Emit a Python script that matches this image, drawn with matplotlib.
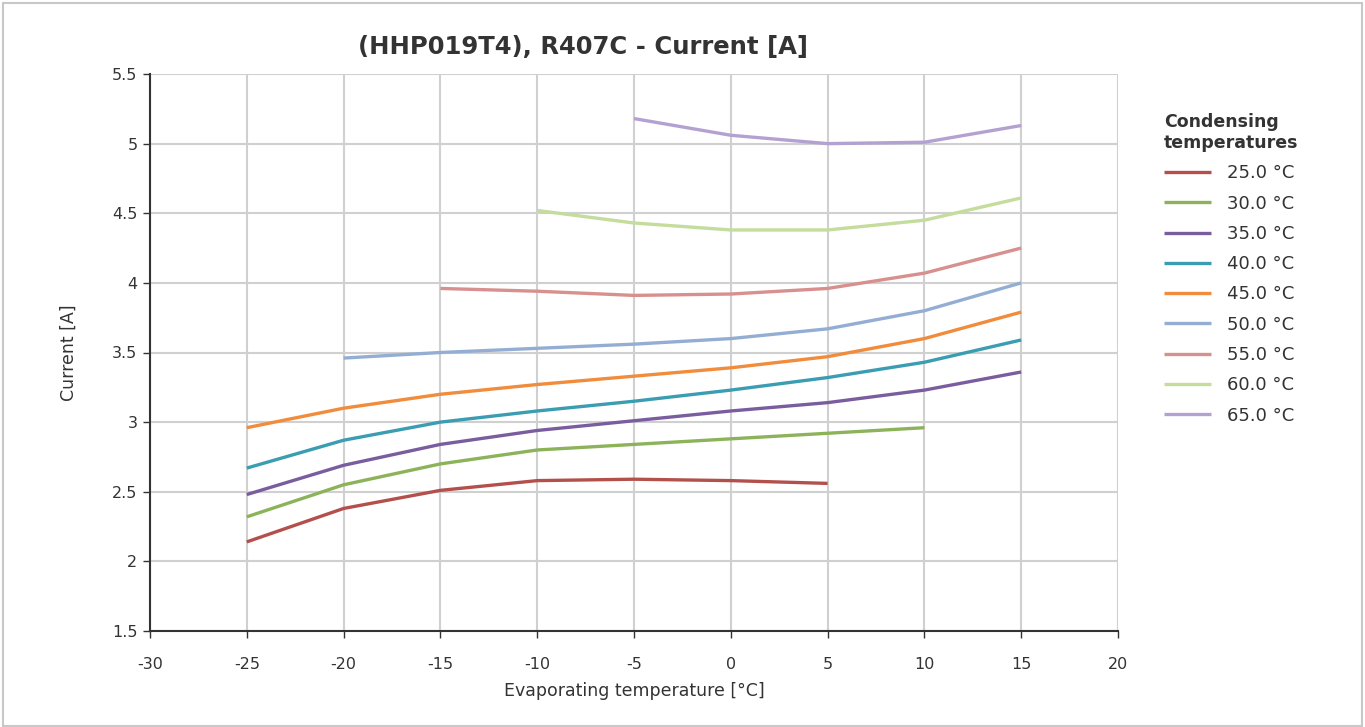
import numpy as np
import matplotlib
matplotlib.use("Agg")
import matplotlib.pyplot as plt
from matplotlib.patches import Rectangle

plt.rcParams["font.family"] = ["DejaVu Sans"]
plt.rcParams["axes.unicode_minus"] = False

# evaporating temperatures [°C]
evap = [-25, -20, -15, -10, -5, 0, 5, 10, 15]

cond_labels = ["25.0 °C", "30.0 °C", "35.0 °C", "40.0 °C", "45.0 °C",
               "50.0 °C", "55.0 °C", "60.0 °C", "65.0 °C"]

# current [A] per condensing temperature, None where no data
cur_25 = [2.14, 2.38, 2.51, 2.58, 2.59, 2.58, 2.56, None, None]
cur_30 = [2.32, 2.55, 2.70, 2.80, 2.84, 2.88, 2.92, 2.96, None]
cur_35 = [2.48, 2.69, 2.84, 2.94, 3.01, 3.08, 3.14, 3.23, 3.36]
cur_40 = [2.67, 2.87, 3.00, 3.08, 3.15, 3.23, 3.32, 3.43, 3.59]
cur_45 = [2.96, 3.10, 3.20, 3.27, 3.33, 3.39, 3.47, 3.60, 3.79]
cur_50 = [None, 3.46, 3.50, 3.53, 3.56, 3.60, 3.67, 3.80, 4.00]
cur_55 = [None, None, 3.96, 3.94, 3.91, 3.92, 3.96, 4.07, 4.25]
cur_60 = [None, None, None, 4.52, 4.43, 4.38, 4.38, 4.45, 4.61]
cur_65 = [None, None, None, None, 5.18, 5.06, 5.00, 5.01, 5.13]

series = [cur_25, cur_30, cur_35, cur_40, cur_45, cur_50, cur_55, cur_60, cur_65]
colors = ["#b4504c", "#8db35a", "#7a5d9e", "#3a9db2", "#f08c3c",
          "#94aed3", "#d8908e", "#c4dc9c", "#b3a1d2"]

fig = plt.figure(figsize=(13.65, 7.27), dpi=100)
fig.patch.set_facecolor("white")
# thin grey frame round the whole picture
fig.patches.append(Rectangle((0.002, 0.002), 0.996, 0.994, transform=fig.transFigure,
                             fill=False, edgecolor="#c8c8c8", linewidth=1.5))

ax = fig.add_axes([150 / 1365, 1 - 631 / 727, (1118 - 150) / 1365, (631 - 74) / 727])

for vals, c, lab in zip(series, colors, cond_labels):
    y = np.array([np.nan if v is None else v for v in vals], dtype=float)
    ax.plot(evap, y, color=c, linewidth=2.4, label=lab, solid_capstyle="butt")

ax.set_xlim(-30, 20)
ax.set_ylim(1.5, 5.5)
ax.set_xticks(np.arange(-30, 21, 5))
ax.set_yticks(np.arange(1.5, 5.51, 0.5))
ax.set_yticklabels(["1.5", "2", "2.5", "3", "3.5", "4", "4.5", "5", "5.5"])
ax.grid(True, color="#d0d0d0", linewidth=1.5)
ax.set_axisbelow(True)
for s in ["top", "right"]:
    ax.spines[s].set_visible(False)
for s in ["left", "bottom"]:
    ax.spines[s].set_color("#333333")
    ax.spines[s].set_linewidth(1.5)
ax.tick_params(axis="both", labelsize=11.5, colors="#333333", length=5, width=1, pad=4)
ax.tick_params(axis="x", pad=14)

ax.set_xlabel("Evaporating temperature [°C]", fontsize=12.5, color="#333333", labelpad=7)
ax.set_ylabel("Current [A]", fontsize=12.5, color="#333333", labelpad=25)

fig.text(583 / 1365, 1 - 47 / 727, "(HHP019T4), R407C - Current [A]", fontsize=17.5,
         fontweight="bold", color="#333333", ha="center", va="center")

leg = ax.legend(loc="upper left", bbox_to_anchor=(1148 / 1365, 1 - 97 / 727),
                bbox_transform=fig.transFigure, frameon=False,
                title="Condensing\ntemperatures", fontsize=13, handlelength=2.6,
                handletextpad=0.9, labelspacing=0.68, alignment="left")
leg.get_title().set_fontweight("bold")
leg.get_title().set_fontsize(12.5)
leg.get_title().set_color("#333333")
for t in leg.get_texts():
    t.set_color("#333333")

fig.savefig("out.png", dpi=100)
